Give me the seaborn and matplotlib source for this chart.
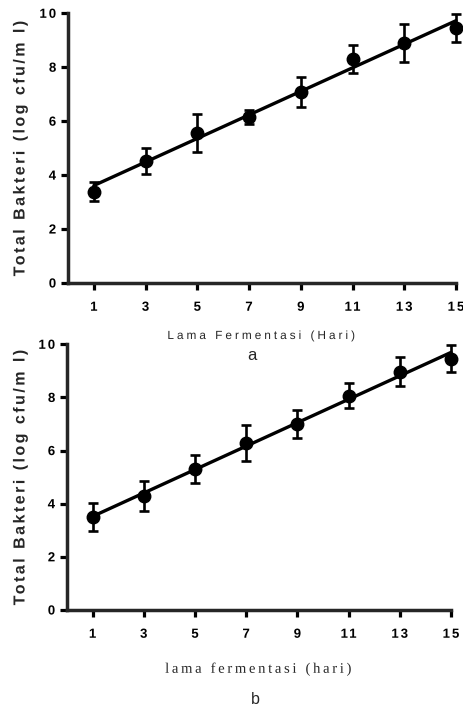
import numpy as np
import pandas as pd
import matplotlib
matplotlib.use("Agg")
import matplotlib.pyplot as plt
import seaborn as sns
from matplotlib.patheffects import AbstractPathEffect
from matplotlib.textpath import TextToPath
from matplotlib.path import Path

days = [1, 3, 5, 7, 9, 11, 13, 15]
bakteri_a = [3.38, 4.53, 5.57, 6.16, 7.09, 8.30, 8.89, 9.44]
err_a = [0.35, 0.49, 0.70, 0.27, 0.55, 0.52, 0.70, 0.52]
bakteri_b = [3.50, 4.29, 5.31, 6.27, 7.01, 8.07, 8.97, 9.45]
err_b = [0.52, 0.56, 0.52, 0.68, 0.53, 0.48, 0.55, 0.51]
yticks = [0, 2, 4, 6, 8, 10]

ylabel = "Total Bakteri (log cfu/m l)"
xlabel_a = "Lama Fermentasi (Hari)"
xlabel_b = "lama fermentasi (hari)"

sns.set_style("ticks")
plt.rcParams['font.family'] = ['Liberation Sans', 'DejaVu Sans']

DPI = 100
W, H = 463, 705
fig = plt.figure(figsize=(W / DPI, H / DPI), dpi=DPI)

_t2p = TextToPath()


class LetterSpacing(AbstractPathEffect):
    """Draws the text's own string with extra space between letters."""

    def __init__(self, text, spacing_px, align="center"):
        super().__init__()
        self.text = text
        self.sp_px = spacing_px
        self.align = align

    def draw_path(self, renderer, gc, tpath, affine, rgbFace=None):
        s = self.text.get_text()
        prop = self.text.get_fontproperties()
        font = _t2p._get_font(prop)
        info, gmap, _ = _t2p.get_glyphs_with_font(font, s)
        fs_px = prop.get_size_in_points() * DPI / 72.0
        sp = self.sp_px * _t2p.FONT_SCALE / fs_px
        n = len(info)
        if self.align == "center":
            shift = -(n - 1) * sp / 2
        elif self.align == "right":
            shift = -(n - 1) * sp
        else:
            shift = 0.0
        verts, codes = [], []
        for i, (gid, xp, yp, scale) in enumerate(info):
            v1, c1 = gmap[gid]
            if len(v1) == 0:
                continue
            verts.extend(np.asarray(v1) * scale + [xp + i * sp + shift, yp])
            codes.extend(c1)
        if verts:
            renderer.draw_path(gc, Path(np.array(verts), np.array(codes)), affine, rgbFace)


def spaced(t, px, align="center"):
    t.set_path_effects([LetterSpacing(t, px, align)])
    return t


def px_axes(left, right, top, bottom):
    return fig.add_axes([left / W, 1 - bottom / H, (right - left) / W, (bottom - top) / H])


def draw(ax, y, e):
    df = pd.DataFrame({"day": days, "val": y})
    sns.regplot(data=df, x="day", y="val", ax=ax, ci=None, scatter=False,
                truncate=True, line_kws=dict(color="black", lw=2.4, clip_on=False))
    ax.errorbar(days, y, yerr=e, fmt="o", color="black", ms=9, elinewidth=1.9,
                capsize=3.6, capthick=1.9, clip_on=False, zorder=5)
    ax.set_xlim(0, 15)
    ax.set_ylim(0, 10)
    ax.set_xticks(days, labels=[str(d) for d in days])
    ax.set_yticks(yticks, labels=[str(v) for v in yticks])
    ax.set_xlabel("")
    ax.set_ylabel("")
    for s in ["top", "right"]:
        ax.spines[s].set_visible(False)
    for s in ["left", "bottom"]:
        ax.spines[s].set_linewidth(2.5)
    ax.tick_params(axis="both", width=2.3, length=5, labelsize=9.5,
                   labelcolor="black", color="black")
    ax.tick_params(axis="x", pad=8.5)
    ax.tick_params(axis="y", pad=3.5)
    for lab in ax.get_xticklabels():
        lab.set_fontweight("bold")
        spaced(lab, 2.0, "center")
    for lab in ax.get_yticklabels():
        lab.set_fontweight("bold")
        spaced(lab, 2.0, "right")


ax1 = px_axes(68, 456, 13.3, 283)
draw(ax1, bakteri_a, err_a)
ax2 = px_axes(67, 451, 344.3, 610)
draw(ax2, bakteri_b, err_b)

for yc in (148, 477):
    t = fig.text(20 / W, 1 - yc / H, ylabel, rotation=90, ha="center", va="center",
                 fontsize=11.5, fontweight="bold")
    spaced(t, 2.5)

t = fig.text(261 / W, 1 - 336 / H, xlabel_a, ha="center", va="center", fontsize=8.5)
spaced(t, 3.0)
fig.text(252 / W, 1 - 356 / H, "a", ha="center", va="center", fontsize=12)
t = fig.text(258 / W, 1 - 669 / H, xlabel_b, ha="center", va="center", fontsize=10.5,
             family=["Liberation Serif", "DejaVu Serif"])
spaced(t, 2.7)
fig.text(255 / W, 1 - 699 / H, "b", ha="center", va="center", fontsize=11.5)

fig.savefig("out.png", dpi=DPI, facecolor="white")
